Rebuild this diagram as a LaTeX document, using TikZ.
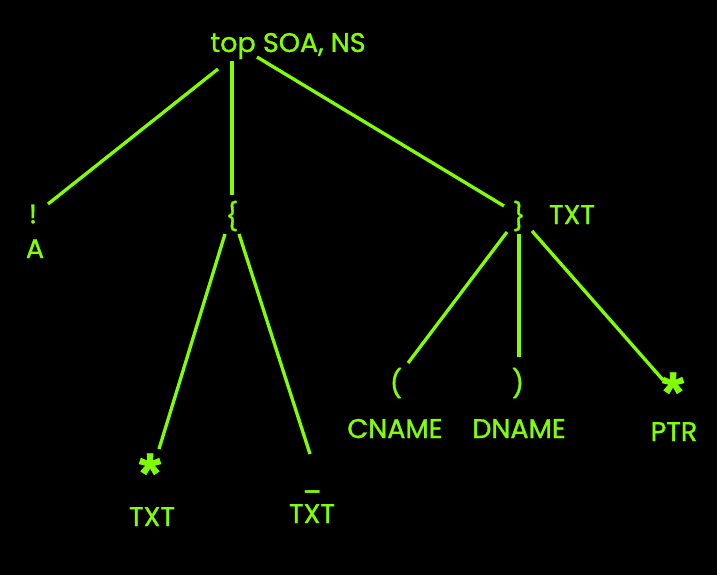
\documentclass[tikz,border=0pt]{standalone}
\usepackage{fontspec}
\setmainfont{Poppins}[FakeBold=1.2]
\newfontfamily\starfont{Liberation Sans}[FakeBold=1.5]
\definecolor{termgreen}{RGB}{128,255,0}
\tikzset{
  lbl/.style={text=termgreen, font=\fontsize{27}{30}\selectfont, inner sep=0pt, anchor=base},
  sym/.style={text=termgreen, font=\fontsize{27}{30}\selectfont, inner sep=0pt, anchor=center},
  star/.style={text=termgreen, font=\starfont\fontsize{56}{60}\selectfont\bfseries, inner sep=0pt, anchor=center},
  branch/.style={draw=termgreen, line width=3.3pt}
}
\begin{document}
\begin{tikzpicture}[x=1pt,y=-1pt]
\fill[black] (0,0) rectangle (717,575);
% root
\node[lbl] (top) at (288,52) {top SOA, NS};
% first level
\node[sym] (bang) at (33,214) {!};
\node[lbl] (bangA) at (35,258) {A};
\node[sym] (lbrace) at (232,216) {\{};
\node[sym] (rbrace) at (519,216) {\}};
\node[lbl] (rbraceTXT) at (572,224) {TXT};
% under the left brace
\node[star] (lstar) at (150,473) {*};
\node[lbl] (lstarTXT) at (152,526) {TXT};
\node[sym] (uscore) at (312,491) {\_};
\node[lbl] (uscoreTXT) at (312,523) {TXT};
% under the right brace
\node[sym] (lparen) at (396,383) {(};
\node[lbl] (lparenCNAME) at (395,438) {CNAME};
\node[sym] (rparen) at (518,383) {)};
\node[lbl] (rparenDNAME) at (519,438) {DNAME};
\node[star] (rstar) at (673,392) {*};
\node[lbl] (rstarPTR) at (674,441) {PTR};
% branch ends
\coordinate (top-bang) at (218,69);
\coordinate (top-lbrace) at (232,61);
\coordinate (top-rbrace) at (257,57);
\coordinate (bang-top) at (48,204);
\coordinate (lbrace-top) at (232,195);
\coordinate (rbrace-top) at (504,206);
\coordinate (lbrace-lstar) at (225,234);
\coordinate (lbrace-uscore) at (239,234);
\coordinate (lstar-lbrace) at (159,449);
\coordinate (uscore-lbrace) at (310,454);
\coordinate (rbrace-lparen) at (507,232);
\coordinate (rbrace-rparen) at (519,234);
\coordinate (rbrace-rstar) at (532,231);
\coordinate (lparen-rbrace) at (408,363);
\coordinate (rparen-rbrace) at (519,357);
\coordinate (rstar-rbrace) at (663,380);
% branches
\draw[branch] (top-bang) -- (bang-top);
\draw[branch] (top-lbrace) -- (lbrace-top);
\draw[branch] (top-rbrace) -- (rbrace-top);
\draw[branch] (lbrace-lstar) -- (lstar-lbrace);
\draw[branch] (lbrace-uscore) -- (uscore-lbrace);
\draw[branch] (rbrace-lparen) -- (lparen-rbrace);
\draw[branch] (rbrace-rparen) -- (rparen-rbrace);
\draw[branch] (rbrace-rstar) -- (rstar-rbrace);
\end{tikzpicture}
\end{document}
